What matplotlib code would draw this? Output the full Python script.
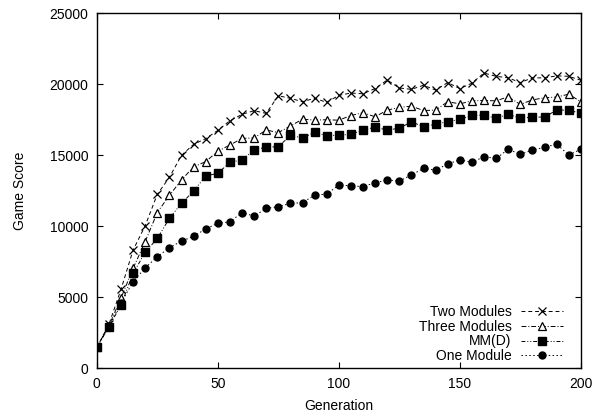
import matplotlib
matplotlib.use("Agg")
import matplotlib.pyplot as plt

plt.rcParams["font.family"] = ["Liberation Sans", "DejaVu Sans"]
plt.rcParams["font.size"] = 10

generations = list(range(0, 201, 5))

two_modules = [1480, 3100, 5560, 8330, 10040, 12250, 13450, 15000, 15770, 16170,
               16750, 17430, 17880, 18140, 17950, 19190, 19010, 18770, 19010, 18730,
               19220, 19380, 19330, 19700, 20300, 19740, 19640, 19930, 19590, 20120,
               19690, 20080, 20790, 20560, 20450, 20120, 20450, 20450, 20590, 20560,
               20280]
three_modules = [1480, 3000, 4950, 7040, 8930, 10970, 12180, 13260, 14190, 14550,
                 15290, 15720, 16190, 16220, 16780, 16600, 17060, 17540, 17480, 17500,
                 17470, 17800, 18000, 17710, 18180, 18370, 18460, 18150, 18180, 18770,
                 18620, 18830, 18860, 18830, 19120, 18580, 18900, 19050, 19100, 19300,
                 18770]
mm_d = [1480, 2930, 4460, 6690, 8170, 9150, 10560, 11620, 12480, 13540,
        13730, 14500, 14680, 15370, 15580, 15600, 16400, 16220, 16610, 16380,
        16420, 16470, 16780, 16970, 16780, 16900, 17360, 17010, 17200, 17360,
        17530, 17810, 17830, 17600, 17900, 17600, 17690, 17690, 18180, 18180,
        17950]
one_module = [1480, 2950, 4600, 6100, 7080, 7860, 8490, 8960, 9290, 9820,
              10210, 10320, 10960, 10720, 11260, 11380, 11620, 11660, 12200, 12270,
              12900, 12860, 12790, 13070, 13260, 13190, 13610, 14080, 13960, 14380,
              14690, 14500, 14900, 14780, 15420, 15070, 15370, 15560, 15790, 15020,
              15420]

x_ticks = [0, 50, 100, 150, 200]
y_ticks = [0, 5000, 10000, 15000, 20000, 25000]

fig = plt.figure(figsize=(6.05, 4.13), dpi=100)
ax = fig.add_axes([0.16, 0.108, 0.8, 0.86])

lw = 0.7
ax.plot(generations, two_modules, color="black", lw=lw, ls=(0, (4, 3)),
        marker="x", ms=6, mew=0.9, label="Two Modules")
ax.plot(generations, three_modules, color="black", lw=lw, ls=(0, (5, 2, 1, 2)),
        marker="^", ms=5.5, mfc="white", mew=0.9, label="Three Modules")
ax.plot(generations, mm_d, color="black", lw=lw, ls=(0, (4, 2, 1, 2, 1, 2)),
        marker="s", ms=5.5, label="MM(D)")
ax.plot(generations, one_module, color="black", lw=lw, ls=(0, (1.5, 2.5)),
        marker="o", ms=5, label="One Module")

ax.set_xlim(0, 200)
ax.set_ylim(0, 25000)
ax.set_xticks(x_ticks)
ax.set_yticks(y_ticks)
ax.tick_params(direction="in", length=4, width=0.8, top=True, right=True, pad=6)
for s in ax.spines.values():
    s.set_linewidth(1.0)

ax.set_xlabel("Generation", labelpad=6)
ax.set_ylabel("Game Score", labelpad=16)

leg = ax.legend(loc="lower right", bbox_to_anchor=(0.963, 0.015), frameon=False,
                markerfirst=False, handlelength=3.0, handletextpad=0.7,
                labelspacing=0.05, borderpad=0, borderaxespad=0)

fig.savefig("out.png", dpi=100)
